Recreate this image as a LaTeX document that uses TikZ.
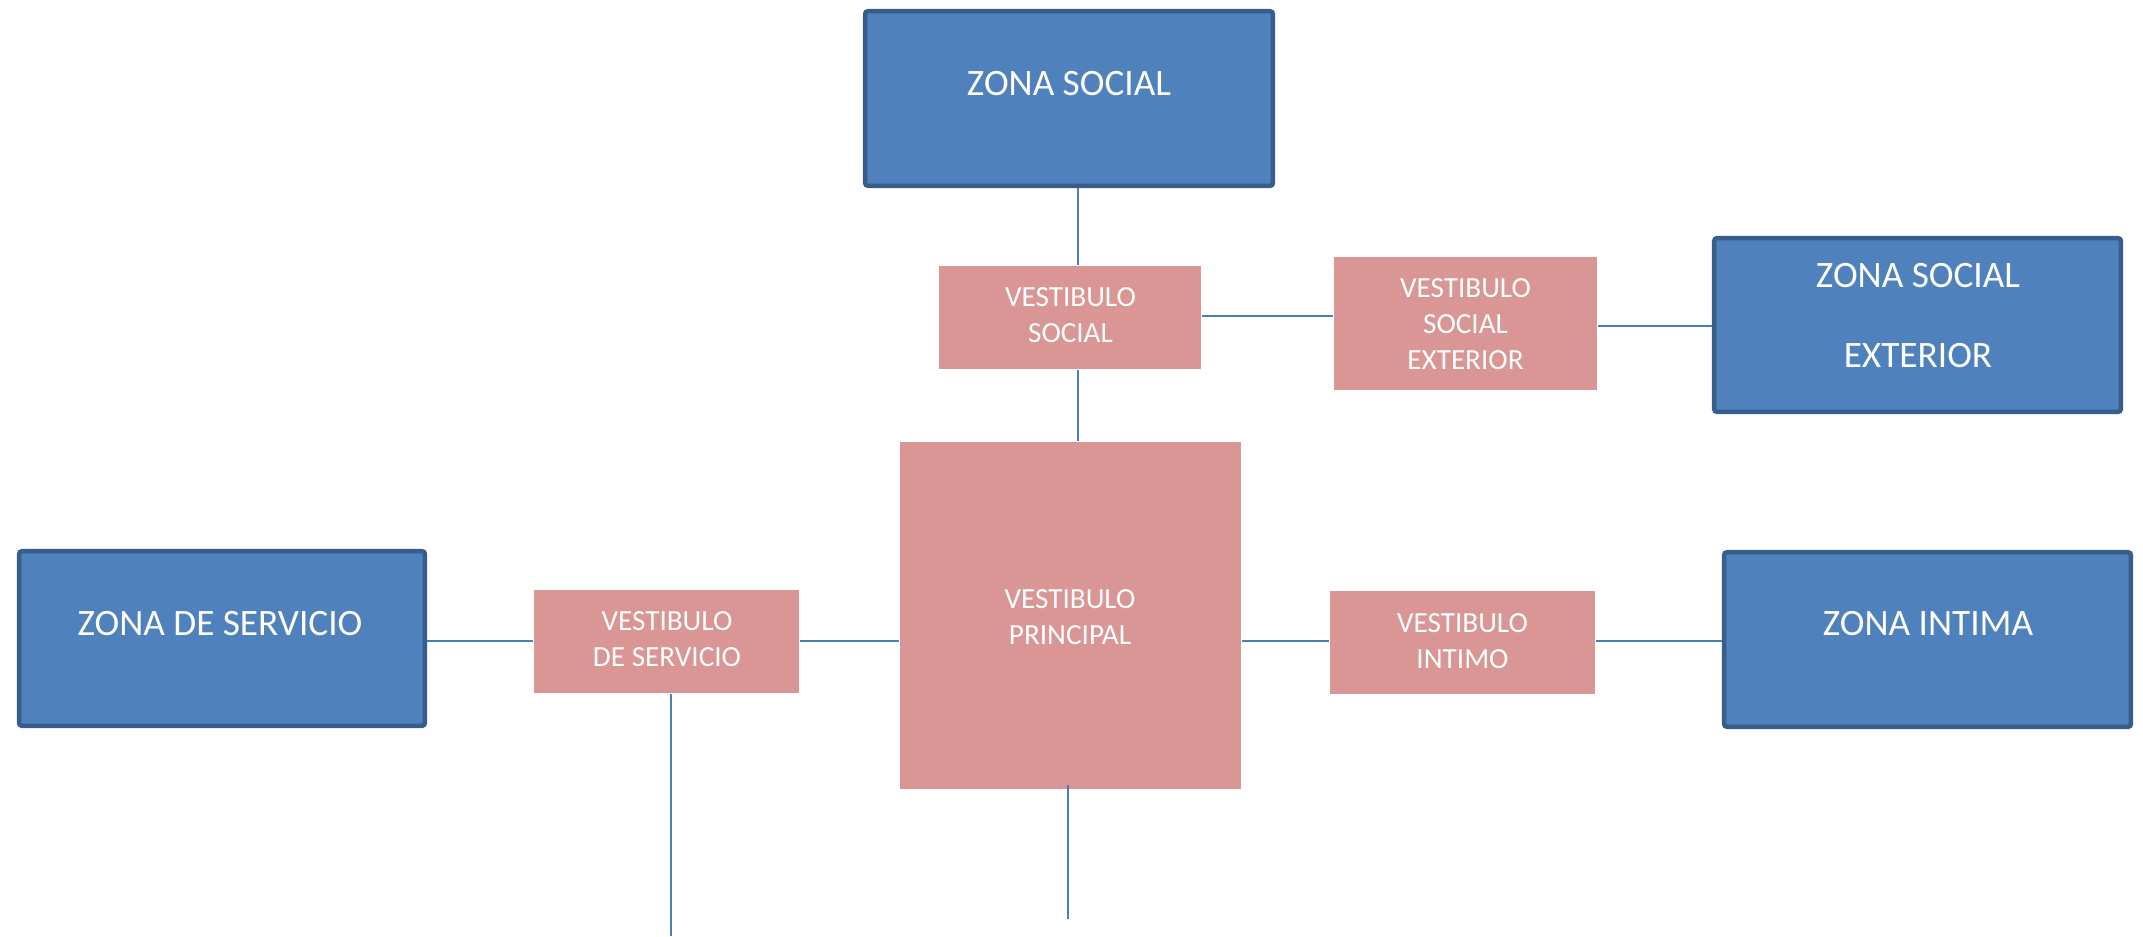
\documentclass[tikz,border=0pt]{standalone}
\usepackage{fontspec}
\setmainfont{Carlito}
\usetikzlibrary{calc}
\definecolor{zoneblue}{HTML}{4F81BD}
\definecolor{zoneedge}{HTML}{385D8A}
\definecolor{vestpink}{HTML}{D99694}
\definecolor{linkblue}{HTML}{4A7EBB}
\begin{document}
\begin{tikzpicture}[x=0.01cm,y=-0.01cm,
  zone/.style={draw=zoneedge, fill=zoneblue, line width=1.28pt, rounded corners=0.8pt, inner sep=0pt},
  vest/.style={fill=vestpink, draw=none, inner sep=0pt},
  bigtxt/.style={text=white, font=\fontsize{10.6}{13}\selectfont, inner sep=0pt, anchor=base},
  smalltxt/.style={text=white, font=\fontsize{8.3}{10.33}\selectfont, inner sep=0pt, anchor=base},
  link/.style={draw=linkblue, line width=0.6pt}]
\useasboundingbox (0,0) rectangle (2143,936);

% zone boxes
\node[zone, minimum width=4.075cm, minimum height=1.745cm] (zs)  at (1069,98.5) {};
\node[zone, minimum width=4.065cm, minimum height=1.735cm] (zse) at (1917.5,325) {};
\node[zone, minimum width=4.055cm, minimum height=1.745cm] (zds) at (222,638.5) {};
\node[zone, minimum width=4.065cm, minimum height=1.745cm] (zi)  at (1927.5,639.5) {};

% vestibule boxes
\node[vest, minimum width=2.62cm, minimum height=1.03cm] (vs)  at (1070,317.5) {};
\node[vest, minimum width=2.63cm, minimum height=1.33cm] (vse) at (1465.5,323.5) {};
\node[vest, minimum width=3.41cm, minimum height=3.47cm] (vp)  at (1070.5,615.5) {};
\node[vest, minimum width=2.65cm, minimum height=1.03cm] (vi)  at (1462.5,642.5) {};
\node[vest, minimum width=2.65cm, minimum height=1.03cm] (vds) at (666.5,641.5) {};

% texts
\node[bigtxt] (zs-t)  at (1069,95) {ZONA SOCIAL};
\node[bigtxt] (zse-t) at (1918,287) {\begin{tabular}[t]{@{}c@{}}ZONA SOCIAL\\[9.76pt]EXTERIOR\end{tabular}};
\node[bigtxt] (zds-t) at (220,635) {ZONA DE SERVICIO};
\node[bigtxt] (zi-t)  at (1928,635) {ZONA INTIMA};
\node[smalltxt] (vs-t)  at (1070.5,306) {\begin{tabular}[t]{@{}c@{}}VESTIBULO\\SOCIAL\end{tabular}};
\node[smalltxt] (vse-t) at (1465.5,297) {\begin{tabular}[t]{@{}c@{}}VESTIBULO\\SOCIAL\\EXTERIOR\end{tabular}};
\node[smalltxt] (vp-t)  at (1070,608) {\begin{tabular}[t]{@{}c@{}}VESTIBULO\\PRINCIPAL\end{tabular}};
\node[smalltxt] (vi-t)  at (1462.5,632) {\begin{tabular}[t]{@{}c@{}}VESTIBULO\\INTIMO\end{tabular}};
\node[smalltxt] (vds-t) at (667,630) {\begin{tabular}[t]{@{}c@{}}VESTIBULO\\DE SERVICIO\end{tabular}};

% lanes for connectors
\coordinate (cx1) at (1078,0);
\coordinate (cx2) at (671,0);
\coordinate (cx3) at (1068,0);
\coordinate (ry1) at (0,316);
\coordinate (ry2) at (0,326);
\coordinate (ry3) at (0,641);
\coordinate (e1) at (671,936);
\coordinate (e2) at (1068,919);

% connectors
\draw[link] (zs.south -| cx1) -- (vs.north -| cx1);
\draw[link] (vs.south -| cx1) -- (vp.north -| cx1);
\draw[link] (vs.east |- ry1) -- (vse.west |- ry1);
\draw[link] (vse.east |- ry2) -- (zse.west |- ry2);
\draw[link] (zds.east |- ry3) -- (vds.west |- ry3);
\draw[link] (vds.east |- ry3) -- (vp.west |- ry3);
\draw[link] (vp.east |- ry3) -- (vi.west |- ry3);
\draw[link] (vi.east |- ry3) -- (zi.west |- ry3);
\draw[link] (vds.south -| cx2) -- (e1);
\draw[link] ($(vp.south -| cx3)+(0,-5)$) -- (e2);
\end{tikzpicture}
\end{document}
